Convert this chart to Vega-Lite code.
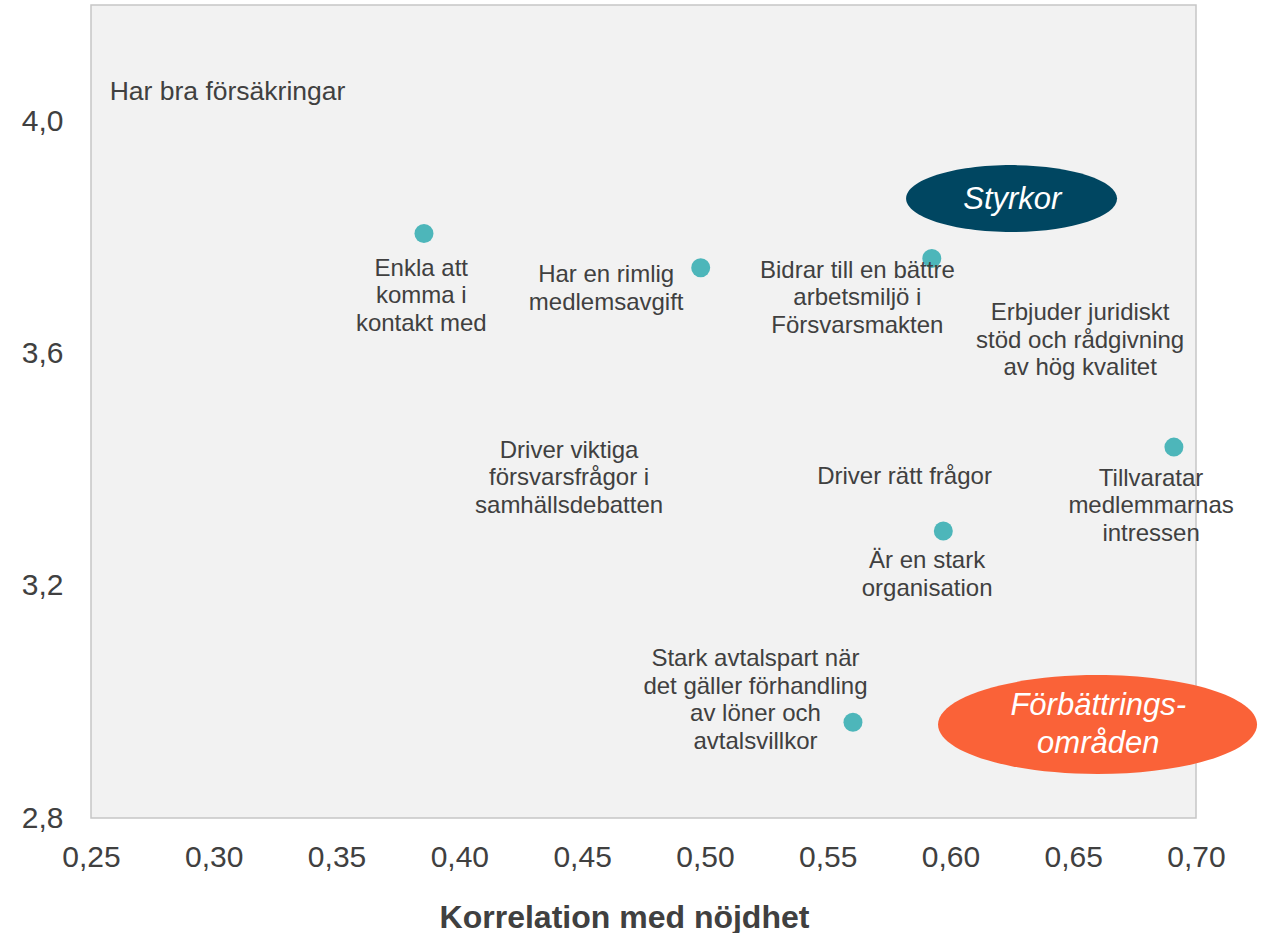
{
  "$schema": "https://vega.github.io/schema/vega-lite/v6.json",
  "autosize": {"type": "none"},
  "width": 1105,
  "height": 813,
  "padding": {"left": 91, "top": 5, "right": 75, "bottom": 115},
  "background": "white",
  "config": {
    "font": "Liberation Sans",
    "view": {"fill": "#F2F2F2", "stroke": "#C6C6C6", "strokeWidth": 1.5}
  },
  "datasets": {
    "points": [
      {"item": "Enkla att komma i kontakt med", "korrelation": 0.3856, "betyg": 3.8066},
      {"item": "Har en rimlig medlemsavgift", "korrelation": 0.4983, "betyg": 3.7474},
      {"item": "Bidrar till en bättre arbetsmiljö i Försvarsmakten", "korrelation": 0.5924, "betyg": 3.7636},
      {"item": "Tillvaratar medlemmarnas intressen", "korrelation": 0.6910, "betyg": 3.4387},
      {"item": "Är en stark organisation", "korrelation": 0.5971, "betyg": 3.2941},
      {"item": "Stark avtalspart när det gäller förhandling av löner och avtalsvillkor", "korrelation": 0.5603, "betyg": 2.9649}
    ],
    "labels": [
      {"label": "Har bra försäkringar", "lx": 0.3056, "ly": 4.050},
      {"label": "Enkla att\nkomma i\nkontakt med", "lx": 0.3845, "ly": 3.746},
      {"label": "Har en rimlig\nmedlemsavgift", "lx": 0.4598, "ly": 3.7342},
      {"label": "Bidrar till en bättre\narbetsmiljö i\nFörsvarsmakten", "lx": 0.5621, "ly": 3.7428},
      {"label": "Erbjuder juridiskt\nstöd och rådgivning\nav hög kvalitet", "lx": 0.6528, "ly": 3.6693},
      {"label": "Driver viktiga\nförsvarsfrågor i\nsamhällsdebatten", "lx": 0.4447, "ly": 3.4327},
      {"label": "Driver rätt frågor", "lx": 0.5813, "ly": 3.388},
      {"label": "Tillvaratar\nmedlemmarnas\nintressen", "lx": 0.6817, "ly": 3.3838},
      {"label": "Är en stark\norganisation", "lx": 0.5905, "ly": 3.2417},
      {"label": "Stark avtalspart när\ndet gäller förhandling\nav löner och\navtalsvillkor", "lx": 0.5206, "ly": 3.0737}
    ]
  },
  "layer": [
    {
      "mark": {"type": "rule", "color": "white", "strokeWidth": 8},
      "encoding": {"x": {"datum": 0.5245, "type": "quantitative"}}
    },
    {
      "mark": {"type": "rule", "color": "white", "strokeWidth": 8},
      "encoding": {"y": {"datum": 3.523, "type": "quantitative"}}
    },
    {
      "data": {"name": "points"},
      "mark": {"type": "point", "filled": true, "opacity": 1, "color": "#4DB6BA", "size": 360},
      "encoding": {
        "x": {
          "field": "korrelation", "type": "quantitative",
          "scale": {"domain": [0.25, 0.70], "nice": false, "zero": false},
          "axis": {
            "values": [0.25, 0.30, 0.35, 0.40, 0.45, 0.50, 0.55, 0.60, 0.65, 0.70],
            "labelExpr": "replace(format(datum.value, '.2f'), '.', ',')",
            "grid": false, "ticks": false, "domain": false, "labelFlush": false,
            "labelFontSize": 30, "labelColor": "#404040", "labelPadding": 24,
            "title": "Korrelation med nöjdhet",
            "titleFontSize": 32, "titleFontWeight": "bold", "titleColor": "#404040",
            "titlePadding": 30, "titleX": 533, "titleAnchor": "middle"
          }
        },
        "y": {
          "field": "betyg", "type": "quantitative",
          "scale": {"domain": [2.8, 4.2], "nice": false, "zero": false},
          "axis": {
            "values": [2.8, 3.2, 3.6, 4.0],
            "labelExpr": "replace(format(datum.value, '.1f'), '.', ',')",
            "grid": false, "ticks": false, "domain": false, "labelFlush": false,
            "labelFontSize": 30, "labelColor": "#404040", "labelPadding": 28,
            "title": null
          }
        }
      }
    },
    {
      "data": {"name": "labels"},
      "transform": [{"filter": "datum.label != 'Har bra försäkringar'"}],
      "mark": {"type": "text", "align": "center", "baseline": "middle", "fontSize": 24, "lineHeight": 27.5, "color": "#404040", "lineBreak": "\n"},
      "encoding": {
        "x": {"field": "lx", "type": "quantitative"},
        "y": {"field": "ly", "type": "quantitative"},
        "text": {"field": "label"}
      }
    },
    {
      "data": {"name": "labels"},
      "transform": [{"filter": "datum.label == 'Har bra försäkringar'"}],
      "mark": {"type": "text", "align": "center", "baseline": "middle", "fontSize": 26.5, "color": "#404040"},
      "encoding": {
        "x": {"field": "lx", "type": "quantitative"},
        "y": {"field": "ly", "type": "quantitative"},
        "text": {"field": "label"}
      }
    },
    {
      "data": {"values": [{"tag": "Styrkor", "ex": 0.6249, "ey": 3.8666}]},
      "mark": {
        "type": "point", "filled": true, "opacity": 1, "color": "#004661", "size": 44521,
        "shape": "M-1,0C-1,-0.1754,-0.5523,-0.3175,0,-0.3175C0.5523,-0.3175,1,-0.1754,1,0C1,0.1754,0.5523,0.3175,0,0.3175C-0.5523,0.3175,-1,0.1754,-1,0Z"
      },
      "encoding": {
        "x": {"field": "ex", "type": "quantitative"},
        "y": {"field": "ey", "type": "quantitative"}
      }
    },
    {
      "data": {"values": [{"tag": "Förbättrings-\nområden", "ex": 0.6599, "ey": 2.961}]},
      "mark": {
        "type": "point", "filled": true, "opacity": 1, "color": "#FA6238", "size": 101761,
        "shape": "M-1,0C-1,-0.1712,-0.5523,-0.31,0,-0.31C0.5523,-0.31,1,-0.1712,1,0C1,0.1712,0.5523,0.31,0,0.31C-0.5523,0.31,-1,0.1712,-1,0Z"
      },
      "encoding": {
        "x": {"field": "ex", "type": "quantitative"},
        "y": {"field": "ey", "type": "quantitative"}
      }
    },
    {
      "data": {"values": [
        {"tag": "Styrkor", "ex": 0.6252, "ey": 3.864},
        {"tag": "Förbättrings-\nområden", "ex": 0.6602, "ey": 2.9928}
      ]},
      "mark": {"type": "text", "align": "center", "baseline": "middle", "fontSize": 31, "fontStyle": "italic", "color": "white", "lineHeight": 38, "lineBreak": "\n"},
      "encoding": {
        "x": {"field": "ex", "type": "quantitative"},
        "y": {"field": "ey", "type": "quantitative"},
        "text": {"field": "tag"}
      }
    }
  ]
}
